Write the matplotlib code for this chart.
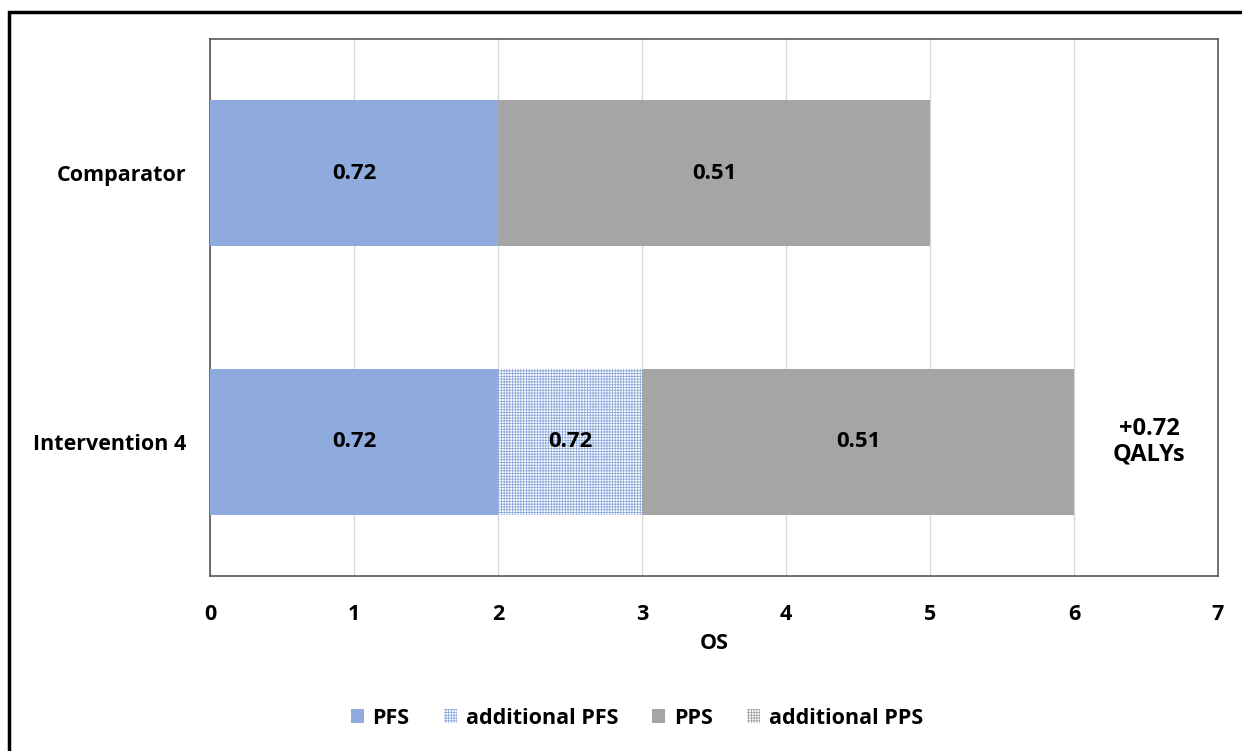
import matplotlib
matplotlib.use("Agg")
import matplotlib.pyplot as plt
from matplotlib.patches import Rectangle, Patch
import numpy as np

# bar data (years on OS axis) and the QALY labels shown inside the segments
arms = ["Intervention 4", "Comparator"]
pfs = [2, 2]
add_pfs = [1, 0]
pps = [3, 3]
add_pps = [0, 0]
pfs_lab = ["0.72", "0.72"]
add_pfs_lab = ["0.72", ""]
pps_lab = ["0.51", "0.51"]
gain_text = "+0.72\nQALYs"

c_pfs = "#8FAADC"
c_pps = "#A5A5A5"

plt.rcParams["font.family"] = ["Open Sans", "DejaVu Sans"]
plt.rcParams["font.weight"] = "bold"
plt.rcParams["hatch.linewidth"] = 0.6
fs = 15.5

fig = plt.figure(figsize=(12.42, 7.51), dpi=100)
ax = fig.add_axes([210/1242, 1-576/751, 1008/1242, 537/751])

y = np.arange(len(arms))
h = 0.545
left = np.zeros(len(arms))
ax.barh(y, pfs, h, left=left, color=c_pfs, label="PFS", zorder=3)
left += pfs
ax.barh(y, add_pfs, h, left=left, color="white", edgecolor=c_pfs, hatch="++++++",
        linewidth=0, label="additional PFS", zorder=3)
left += add_pfs
ax.barh(y, pps, h, left=left, color=c_pps, label="PPS", zorder=3)
left += pps
ax.barh(y, add_pps, h, left=left, color="white", edgecolor=c_pps, hatch="++++++",
        linewidth=0, label="additional PPS", zorder=3)

for i in range(len(arms)):
    x0 = 0
    for w, t in [(pfs[i], pfs_lab[i]), (add_pfs[i], add_pfs_lab[i]), (pps[i], pps_lab[i])]:
        if w > 0 and t:
            ax.text(x0 + w/2, y[i], t, ha="center", va="center", fontsize=16,
                    fontweight="bold", zorder=5)
        x0 += w

ax.text(6.52, 0, gain_text, ha="center", va="center", fontsize=17,
        fontweight="bold", linespacing=1.05)

ax.set_xlim(0, 7)
ax.set_ylim(-0.5, 1.5)
ax.set_xticks(range(8))
ax.set_yticks(y)
ax.set_yticklabels(arms, fontsize=fs, fontweight="bold")
ax.tick_params(axis="x", labelsize=fs, length=0, pad=20)
ax.tick_params(axis="y", length=0, pad=17)
ax.set_xlabel("OS", fontsize=fs, fontweight="bold", labelpad=6)
ax.grid(axis="x", color="#D9D9D9", linewidth=1, zorder=0)
for s in ax.spines.values():
    s.set_color("#595959")
    s.set_linewidth(1.2)

handles = [Patch(facecolor=c_pfs),
           Patch(facecolor="white", edgecolor=c_pfs, hatch="++++++", linewidth=0),
           Patch(facecolor=c_pps),
           Patch(facecolor="white", edgecolor=c_pps, hatch="++++++", linewidth=0)]
fig.legend(handles, ["PFS", "additional PFS", "PPS", "additional PPS"],
           loc="center", bbox_to_anchor=(637/1242, 1-718/751), ncol=4,
           frameon=False, fontsize=fs, handlelength=0.6, handleheight=0.6,
           handletextpad=0.4, columnspacing=1.6)

# outer border around the whole chart (runs off the bottom and right edges)
fig.patches.append(Rectangle((9/1242, -0.05), 1.05, 1.05 - 12/751, transform=fig.transFigure,
                             fill=False, edgecolor="black", linewidth=2.5))

fig.savefig("out.png", dpi=100)
